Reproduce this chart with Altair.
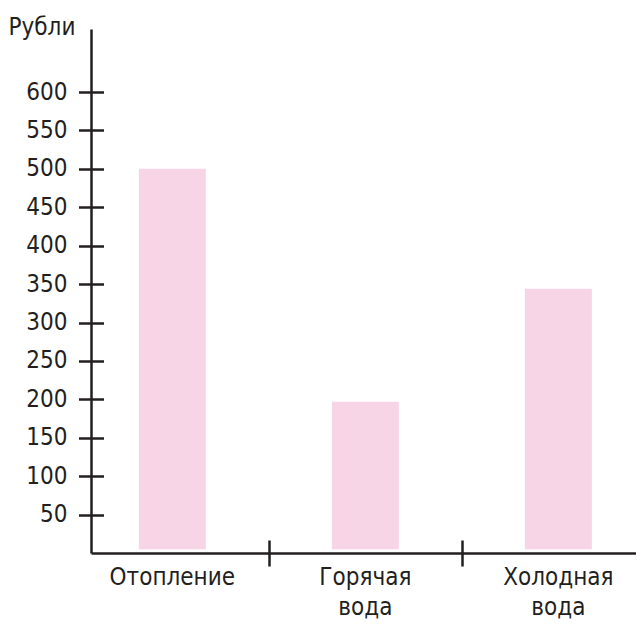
import altair as alt
import pandas as pd

categories = ["Отопление", "Горячая вода", "Холодная вода"]
values = [500, 197, 344]
bar_base = [5, 5, 5]
y_ticks = [50, 100, 150, 200, 250, 300, 350, 400, 450, 500, 550, 600]
y_max = 682
separator_after = ["Отопление", "Горячая вода"]
y_title = "Рубли"

df = pd.DataFrame({"cat": categories, "value": values, "base": bar_base})

FONT = "DejaVu Sans Condensed, Liberation Sans Narrow, Roboto, sans-serif"
INK = "#231f20"
PINK = "#f7d4e6"
W, H = 545, 524
FS = 24

x_scale = alt.Scale(domain=categories, paddingInner=0.653, paddingOuter=0.2383, align=0.52)
y_scale = alt.Scale(domain=[0, y_max], nice=False, zero=True)

bars = alt.Chart(df).mark_bar(color=PINK).encode(
    x=alt.X("cat:N", scale=x_scale, sort=categories,
            axis=alt.Axis(title=None, orient="bottom", domain=True, domainColor=INK,
                          domainWidth=2.5, ticks=False, labelAngle=0, labelFont=FONT,
                          labelFontSize=FS, labelColor=INK, labelPadding=12,
                          labelBaseline="top", labelExpr="split(datum.label, ' ')",
                          labelLineHeight=30, grid=False)),
    y=alt.Y("value:Q", scale=y_scale,
            axis=alt.Axis(title=y_title, orient="left", values=y_ticks, domain=True,
                          domainColor=INK, domainWidth=2.5, ticks=False, labelPadding=24,
                          labelFont=FONT, labelFontSize=FS, labelColor=INK,
                          titleAngle=0, titleX=-83, titleY=5, titleAlign="left",
                          titleBaseline="alphabetic", titleFont=FONT, titleFontSize=FS,
                          titleFontWeight="normal", titleColor=INK, grid=False)),
    y2="base:Q",
)

tick_layer = alt.Chart(df).mark_bar(opacity=0).encode(
    x=alt.X("cat:N", scale=x_scale, sort=categories,
            axis=alt.Axis(title=None, orient="bottom", offset=-13, domain=False,
                          labels=False, ticks=True, tickSize=26, tickWidth=2.5,
                          tickColor=INK, tickOffset=96.5, values=separator_after,
                          grid=False)),
    y=alt.Y("value:Q", scale=y_scale,
            axis=alt.Axis(title=None, orient="left", offset=-12.5, domain=False,
                          labels=False, ticks=True, tickSize=25, tickWidth=2.5,
                          tickColor=INK, values=y_ticks, grid=False)),
    y2="base:Q",
)

chart = alt.layer(bars, tick_layer).resolve_axis(x="independent", y="independent").properties(
    width=W, height=H,
    autosize=alt.AutoSizeParams(type="none"),
    padding={"left": 83, "top": 21, "right": 0, "bottom": 66},
).configure(background="white", view={"stroke": None})

chart.save("out.html", embed_options={"renderer": "svg", "actions": False})
